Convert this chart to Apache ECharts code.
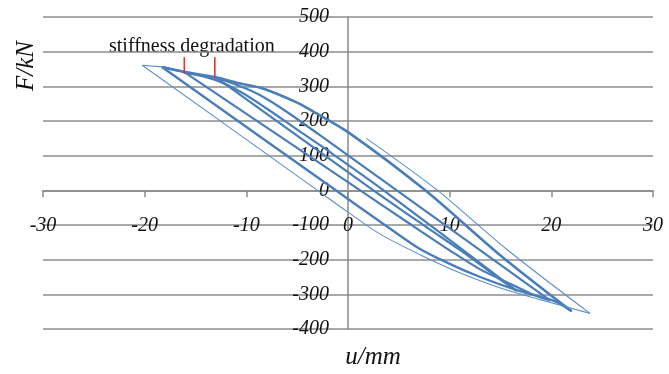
<!DOCTYPE html>
<html>
<head>
<meta charset="utf-8">
<script src="https://cdn.jsdelivr.net/npm/echarts@6/dist/echarts.min.js"></script>
<style>
  html, body { margin: 0; padding: 0; background: #ffffff; }
  #chart { width: 669px; height: 374px; }
</style>
</head>
<body>
<div id="chart"></div>
<script>
// Axis ranges and tick spacing
const xRange = [-30, 30];
const xStep = 10;
const yRange = [-400, 500];
const yStep = 100;

// Hysteresis branches, points are [u (mm), F (kN)]
// Loop A
const loopADown = [[-13, 326], [2.5, 0], [8, -112], [11, -172], [13.5, -225], [15.2, -262], [16.6, -290]];
const loopAUp   = [[16.6, -290], [3.5, 0], [-2, 115], [-5, 175], [-8, 236], [-10.5, 283], [-13, 318], [-16.1, 340]];
// Loop B
const loopBDown = [[-16.1, 341], [1.2, 0], [6, -95], [10, -173], [13, -228], [16, -270], [18, -298], [19.9, -318]];
const loopBUp   = [[19.9, -318], [4.8, 0], [0, 101], [-3, 164], [-6, 226], [-8.5, 272], [-10.6, 300], [-13, 324], [-16.1, 341], [-18.3, 356]];
// Loop C
const loopCDown = [[-18.3, 356], [-1.2, 0], [3, -87], [7, -168], [10, -212], [13, -250], [16.6, -288], [19, -308], [20.5, -322], [22, -349]];
const loopCUp   = [[22, -349], [15, -188], [7.6, 0], [0, 168], [-3.7, 232], [-5, 253], [-8.3, 293], [-10.6, 308], [-13, 326], [-16.1, 342], [-18.3, 356]];
// Loop D (last, largest)
const loopDTop  = [[-18.3, 356], [-20.24, 361]];
const loopDDown = [[-20.24, 361], [-3, 0], [0, -63], [3.2, -127], [7.4, -190], [11, -238], [15, -282], [19, -316], [23.8, -355]];
const loopDUp   = [[23.8, -355], [15.6, -170], [8.8, 0], [1.8, 150]];

// Red pointers for the annotation
const markerU      = [-16.1, -13.1];
const markerTop    = [384, 384];
const markerBottom = [336, 326];

const blue = '#4a7ebb';
const blueThin = '#5a8fd2';

// Plot area in pixels
const W = 669, H = 374;
const gridBox = { left: 43, right: 16, top: 17, bottom: 45 };
const plotW = W - gridBox.left - gridBox.right;
const plotH = H - gridBox.top - gridBox.bottom;
// Shift the axes so they cross at the origin (labels travel with them)
const yAxisShift = -plotW * (0 - xRange[0]) / (xRange[1] - xRange[0]);
const xAxisShift = -plotH * (0 - yRange[0]) / (yRange[1] - yRange[0]);

function branch(data, width, color) {
  return {
    type: 'line',
    data: data,
    symbol: 'none',
    smooth: 0.3,
    lineStyle: { width: width, color: color },
    z: 3,
    silent: true
  };
}

const series = [
  branch(loopADown, 2.2, blue),
  branch(loopAUp, 2.2, blue),
  branch(loopBDown, 2.2, blue),
  branch(loopBUp, 2.2, blue),
  branch(loopCDown, 2.4, blue),
  branch(loopCUp, 2.6, blue),
  branch(loopDTop, 1.1, blueThin),
  branch(loopDDown, 1.1, blueThin),
  branch(loopDUp, 1.1, blueThin)
];

markerU.forEach(function (u, i) {
  series.push({
    type: 'line',
    data: [[u, markerTop[i]], [u, markerBottom[i]]],
    symbol: 'none',
    lineStyle: { width: 1.6, color: '#e8322f' },
    z: 5,
    silent: true
  });
});

const labelFont = {
  fontFamily: 'Liberation Serif',
  fontStyle: 'italic',
  fontSize: 20,
  color: '#111111'
};

const chart = echarts.init(document.getElementById('chart'), null, { renderer: 'canvas' });
chart.setOption({
  animation: false,
  backgroundColor: '#ffffff',
  grid: Object.assign({ containLabel: false, outerBoundsMode: 'none' }, gridBox),
  xAxis: {
    type: 'value',
    position: 'bottom',
    offset: xAxisShift,
    min: xRange[0],
    max: xRange[1],
    interval: xStep,
    axisLine: { onZero: false, lineStyle: { color: '#8a8a8a', width: 1.5 } },
    axisTick: { show: true, length: 7, lineStyle: { color: '#8a8a8a', width: 1.5 } },
    axisLabel: Object.assign({ margin: 25, showMinLabel: true, showMaxLabel: true, hideOverlap: false }, labelFont),
    splitLine: { show: false }
  },
  yAxis: {
    type: 'value',
    position: 'left',
    offset: yAxisShift,
    min: yRange[0],
    max: yRange[1],
    interval: yStep,
    axisLine: { show: true, onZero: false, lineStyle: { color: '#8a8a8a', width: 1.5 } },
    axisTick: { show: false },
    axisLabel: Object.assign({ margin: 19, showMinLabel: true, showMaxLabel: true, hideOverlap: false }, labelFont),
    splitLine: { show: true, lineStyle: { color: '#8c8c8c', width: 1.5 } }
  },
  graphic: [
    {
      type: 'text',
      x: 26, y: 66,
      rotation: Math.PI / 2,
      style: {
        text: 'F/kN',
        font: 'italic 25px "Liberation Serif"',
        fill: '#111111',
        align: 'center',
        verticalAlign: 'middle'
      }
    },
    {
      type: 'text',
      x: 373, y: 357,
      style: {
        text: 'u/mm',
        font: 'italic 25px "Liberation Serif"',
        fill: '#111111',
        align: 'center',
        verticalAlign: 'middle'
      }
    },
    {
      type: 'text',
      x: 109, y: 47,
      style: {
        text: 'stiffness degradation',
        font: '20px "Liberation Serif"',
        fill: '#111111',
        align: 'left',
        verticalAlign: 'middle'
      }
    }
  ],
  series: series
});
</script>
</body>
</html>
